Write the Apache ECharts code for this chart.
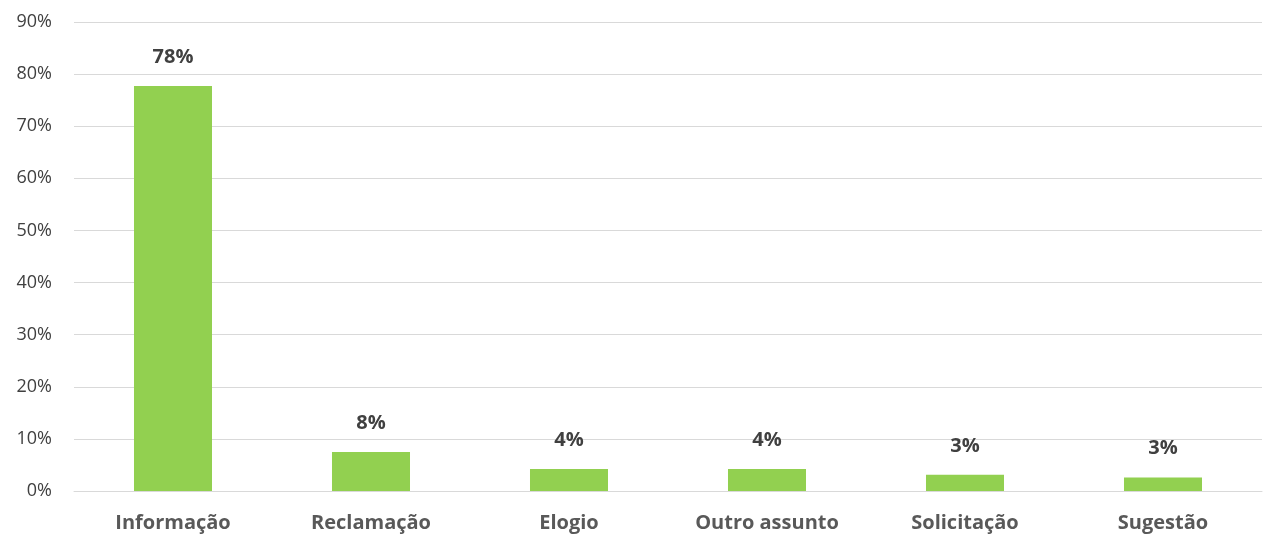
<!DOCTYPE html>
<html><head><meta charset="utf-8">
<script src="https://cdn.jsdelivr.net/npm/echarts@6/dist/echarts.min.js"></script>
<style>html,body{margin:0;padding:0;background:#fff}#c{width:1264px;height:538px}</style>
</head><body><div id="c"></div>
<script>
const categories = ["Informação","Reclamação","Elogio","Outro assunto","Solicitação","Sugestão"];
const values = [77.7, 7.5, 4.2, 4.2, 3.1, 2.6];
const yTicks = [0,10,20,30,40,50,60,70,80,90];

const chart = echarts.init(document.getElementById('c'), null, {renderer:'canvas'});
chart.setOption({
  animation:false,
  grid:{left:74,right:2,top:22,bottom:47},
  xAxis:{type:'category',data:categories,
    axisLine:{show:true,lineStyle:{color:'#d9d9d9',width:1}},
    axisTick:{show:false},
    axisLabel:{margin:22,color:'#595959',fontFamily:'Open Sans',fontWeight:'bold',fontSize:20}},
  yAxis:{type:'value',min:yTicks[0],max:yTicks[yTicks.length-1],interval:10,
    axisLine:{show:false},axisTick:{show:false},
    splitLine:{lineStyle:{color:'#d9d9d9',width:1}},
    axisLabel:{margin:22,color:'#404040',fontFamily:'Open Sans',fontSize:18,formatter:v=>v+'%'}},
  series:[{type:'bar',data:values,barWidth:'39.4%',
    itemStyle:{color:'#92d050'},
    label:{show:true,position:'top',distance:19,color:'#404040',fontFamily:'Open Sans',fontWeight:'bold',fontSize:20,
      formatter:p=>Math.round(p.value)+'%'}}]
});
</script></body></html>
